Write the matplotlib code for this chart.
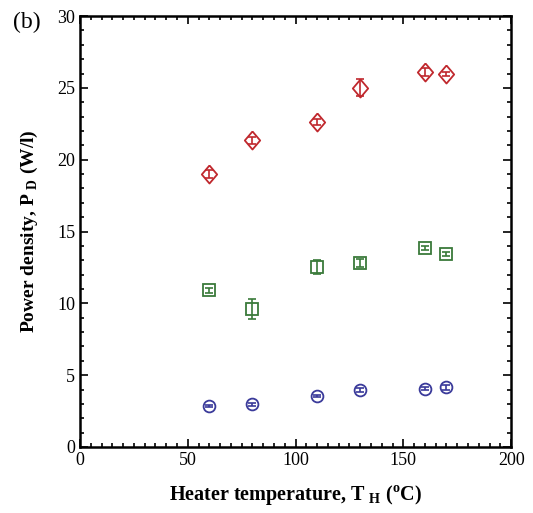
import matplotlib

matplotlib.use("Agg")

import matplotlib.pyplot as plt
from matplotlib.ticker import MultipleLocator

plt.rcParams["font.family"] = ["Liberation Serif", "DejaVu Serif"]
plt.rcParams["mathtext.fontset"] = "custom"
plt.rcParams["mathtext.rm"] = "Liberation Serif"
plt.rcParams["mathtext.bf"] = "Liberation Serif:bold"

# heater temperature (degC)
temps = [60, 80, 110, 130, 160, 170]

# power density (W/l) and error for each series
high = [19.0, 21.35, 22.6, 25.0, 26.1, 25.95]
high_err = [0.25, 0.25, 0.2, 0.6, 0.25, 0.15]
mid = [10.9, 9.6, 12.55, 12.8, 13.85, 13.45]
mid_err = [0.2, 0.7, 0.5, 0.3, 0.15, 0.15]
low = [2.87, 2.97, 3.55, 3.95, 4.05, 4.15]
low_err = [0.08, 0.1, 0.1, 0.15, 0.1, 0.15]

# slightly tall diamond, like the original
tall_diamond = [(0, 1), (0.85, 0), (0, -1), (-0.85, 0), (0, 1)]

fig = plt.figure(figsize=(5.33, 5.13), dpi=100)
ax = fig.add_axes([0.150, 0.1287, 0.809, 0.840])

series = [
    (high, high_err, tall_diamond, "#c0282d", 13),
    (mid, mid_err, "s", "#3a7a3a", 8.5),
    (low, low_err, "o", "#3a3a9a", 8.5),
]
for vals, errs, marker, color, ms in series:
    ax.errorbar(temps, vals, yerr=errs, fmt="none", ecolor=color,
                elinewidth=1.2, capsize=3, capthick=1.2)
    ax.plot(temps, vals, linestyle="none", marker=marker, mfc="none",
            mec=color, ms=ms, mew=1.3)

ax.set_xlim(0, 200)
ax.set_ylim(0, 30)
ax.xaxis.set_major_locator(MultipleLocator(50))
ax.xaxis.set_minor_locator(MultipleLocator(5))
ax.yaxis.set_major_locator(MultipleLocator(5))
ax.yaxis.set_minor_locator(MultipleLocator(1))
ax.tick_params(which="both", direction="in", top=True, right=True,
               labelsize=13, width=1.2)
ax.tick_params(which="major", length=6)
ax.tick_params(which="minor", length=3)
for s in ax.spines.values():
    s.set_linewidth(1.8)

ax.set_xlabel(r"Heater temperature, T$_{\ \mathbf{H}}$ ($^\mathbf{o}$C)",
              fontsize=14.5, fontweight="bold", labelpad=10)
ax.set_ylabel(r"Power density, P$_{\ \mathbf{D}}$ (W/l)",
              fontsize=14, fontweight="bold", labelpad=12)
fig.text(0.025, 0.945, "(b)", fontsize=17)

fig.savefig("out.png", dpi=100)
